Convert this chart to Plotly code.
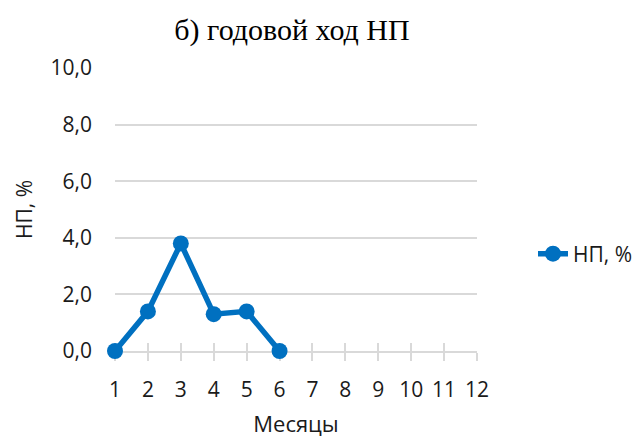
import plotly.graph_objects as go

months = [1, 2, 3, 4, 5, 6, 7, 8, 9, 10, 11, 12]
month_labels = [str(m) for m in months]
np_months = [1, 2, 3, 4, 5, 6]
np_values = [0.0, 1.4, 3.8, 1.3, 1.4, 0.0]
y_ticks = [0, 2, 4, 6, 8, 10]

BLUE = "#0070C0"
GRID = "#d9d9d9"
SANS = "Open Sans"
TXT = "#1a1a1a"

fig = go.Figure()
fig.add_trace(go.Scatter(
    x=np_months, y=np_values, name="НП, %", mode="lines+markers",
    line=dict(color=BLUE, width=5.5), marker=dict(size=16, color=BLUE),
    cliponaxis=False,
))
# invisible trace for the secondary x axis (inside ticks)
fig.add_trace(go.Scatter(x=months, y=[None]*12, xaxis="x2", showlegend=False,
                         hoverinfo="skip"))

fig.update_layout(
    width=640, height=438,
    margin=dict(l=115, r=163, t=68, b=87, autoexpand=False),
    paper_bgcolor="white", plot_bgcolor="white",
    separators=", ",
    title=dict(text="б) годовой ход НП", x=292/640, xanchor="center",
               y=1 - 29/438, yanchor="middle",
               font=dict(family="Liberation Serif", size=30, color="black")),
    xaxis=dict(range=[1, 12], tickmode="array", tickvals=months, ticktext=month_labels,
               showgrid=False, showline=True, linecolor=GRID, linewidth=1.5,
               ticks="outside", ticklen=8, tickcolor=GRID, tickwidth=1.5,
               ticklabelstandoff=11, layer="below traces",
               tickfont=dict(family=SANS, size=21, color=TXT),
               title=dict(text="Месяцы", font=dict(family=SANS, size=22, color=TXT), standoff=19),
               zeroline=False),
    xaxis2=dict(range=[1, 12], overlaying="x", anchor="y", side="bottom",
                tickmode="array", tickvals=months, showticklabels=False,
                ticks="inside", ticklen=8, tickcolor=GRID, tickwidth=1.5,
                layer="below traces",
                showgrid=False, showline=False, zeroline=False),
    yaxis=dict(range=[0, 10], tickmode="array", tickvals=y_ticks, tickformat=".1f",
               showgrid=True, gridcolor=GRID, gridwidth=1.5, zeroline=False,
               showline=False, ticks="", ticklabelstandoff=22, layer="below traces",
               tickfont=dict(family=SANS, size=21, color=TXT),
               title=dict(text="НП, %", font=dict(family=SANS, size=21, color=TXT), standoff=12)),
    legend=dict(x=(533 - 115) / 362, xanchor="left", y=(351 - 254) / 283, yanchor="middle",
                font=dict(family=SANS, size=21, color=TXT),
                bgcolor="rgba(0,0,0,0)"),
)

fig.write_html("out.html", config={"displayModeBar": False},
               post_script="document.body.style.margin='0';document.body.style.overflow='hidden';")
